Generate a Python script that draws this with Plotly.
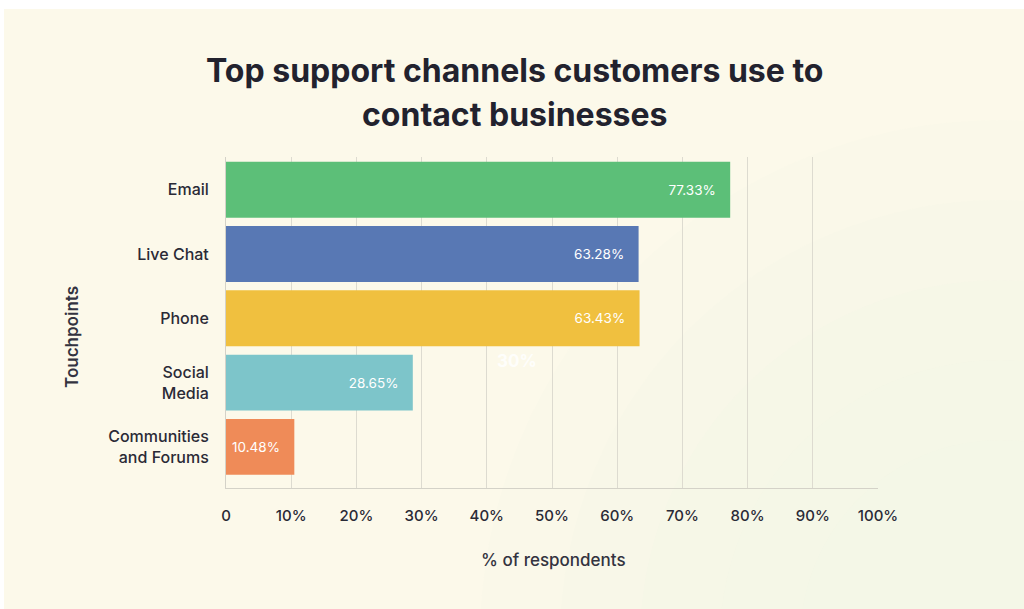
import plotly.graph_objects as go

# ---- data ----
categories = ["Email", "Live Chat", "Phone", "Social<br>Media", "Communities<br>and Forums"]
values = [77.33, 63.28, 63.43, 28.65, 10.48]
bar_colors = ["#5CBF78", "#5878B4", "#F0C03F", "#7DC5CA", "#EF8B58"]
tick_vals = [0, 10, 20, 30, 40, 50, 60, 70, 80, 90, 100]
tick_text = ["0", "10%", "20%", "30%", "40%", "50%", "60%", "70%", "80%", "90%", "100%"]
title_lines = ["Top support channels customers use to", "contact businesses"]
x_title = "% of respondents"
y_title = "Touchpoints"

# ---- layout geometry ----
W, H = 1024, 609
L, R, T, B = 226, 146, 157, 121
PW, PH = W - L - R, H - T - B


def px(x):
    return (x - L) / PW


def py(y):
    return (H - B - y) / PH


FONT = "Inter"
DARK = "#22222E"
CREAM = "#FCF9EA"

fig = go.Figure(
    go.Bar(
        x=values,
        y=categories,
        orientation="h",
        width=0.87,
        marker=dict(color=bar_colors, line=dict(width=0)),
        text=[f"{v:.2f}%" for v in values],
        texttemplate="%{text}\u00a0\u00a0\u00a0",
        textposition="inside",
        insidetextanchor="end",
        textfont=dict(color="white", size=13.5, family=FONT),
        hoverinfo="skip",
    )
)

# subtle greenish glow toward the bottom-right (stacked faint circles)
shapes = []
for i, r in enumerate([520, 440, 360, 280, 200]):
    cx, cy = 1000, 640
    shapes.append(dict(type="circle", xref="paper", yref="paper", layer="below",
                       x0=px(cx - r), x1=px(cx + r), y0=py(cy + r), y1=py(cy - r),
                       fillcolor="#EEF9E4", opacity=0.12, line=dict(width=0)))
# white strips at top and left edges
shapes += [
    dict(type="rect", xref="paper", yref="paper", layer="above",
         x0=px(0), x1=px(W), y0=py(0), y1=py(9), fillcolor="white", line=dict(width=0)),
    dict(type="rect", xref="paper", yref="paper", layer="above",
         x0=px(0), x1=px(4), y0=py(0), y1=py(H), fillcolor="white", line=dict(width=0)),
]

annotations = [
    dict(text=title_lines[0], xref="paper", yref="paper", x=px(514), y=py(71),
         showarrow=False, xanchor="center", yanchor="middle",
         font=dict(family=FONT, size=32, color=DARK, weight=700)),
    dict(text=title_lines[1], xref="paper", yref="paper", x=px(514), y=py(115),
         showarrow=False, xanchor="center", yanchor="middle",
         font=dict(family=FONT, size=32, color=DARK, weight=700)),
    dict(text=y_title, xref="paper", yref="paper", x=px(72), y=py(337),
         showarrow=False, textangle=-90, xanchor="center", yanchor="middle",
         font=dict(family=FONT, size=17, color="#33333F", weight=600)),
    dict(text=x_title, xref="paper", yref="paper", x=px(553), y=py(560),
         showarrow=False, xanchor="center", yanchor="middle",
         font=dict(family=FONT, size=17, color="#33333F", weight=500)),
    dict(text="30%", xref="paper", yref="paper", x=px(517), y=py(361),
         showarrow=False, xanchor="center", yanchor="middle",
         font=dict(family=FONT, size=17, color="rgba(255,255,255,0.85)", weight=700)),
]

fig.update_layout(
    width=W,
    height=H,
    margin=dict(l=L, r=R, t=T, b=B, pad=0),
    paper_bgcolor=CREAM,
    plot_bgcolor="rgba(0,0,0,0)",
    showlegend=False,
    shapes=shapes,
    annotations=annotations,
    font=dict(family=FONT, color=DARK),
)

fig.update_xaxes(
    range=[0, 100],
    tickvals=tick_vals,
    ticktext=tick_text,
    showgrid=True,
    gridcolor="#DDDBD0",
    gridwidth=1,
    showline=True,
    linecolor="#D4D2C8",
    linewidth=1,
    zeroline=False,
    ticks="",
    ticklabelstandoff=14,
    tickfont=dict(family=FONT, size=15, color="#2A2A36", weight=500),
    fixedrange=True,
)

fig.update_yaxes(
    range=[4.64, -0.51],
    showgrid=False,
    showline=True,
    linecolor="#D4D2C8",
    linewidth=1,
    ticks="",
    ticklabelstandoff=13,
    tickfont=dict(family=FONT, size=16, color="#2A2A36", weight=500),
    fixedrange=True,
)

fig.write_html("out.html")
